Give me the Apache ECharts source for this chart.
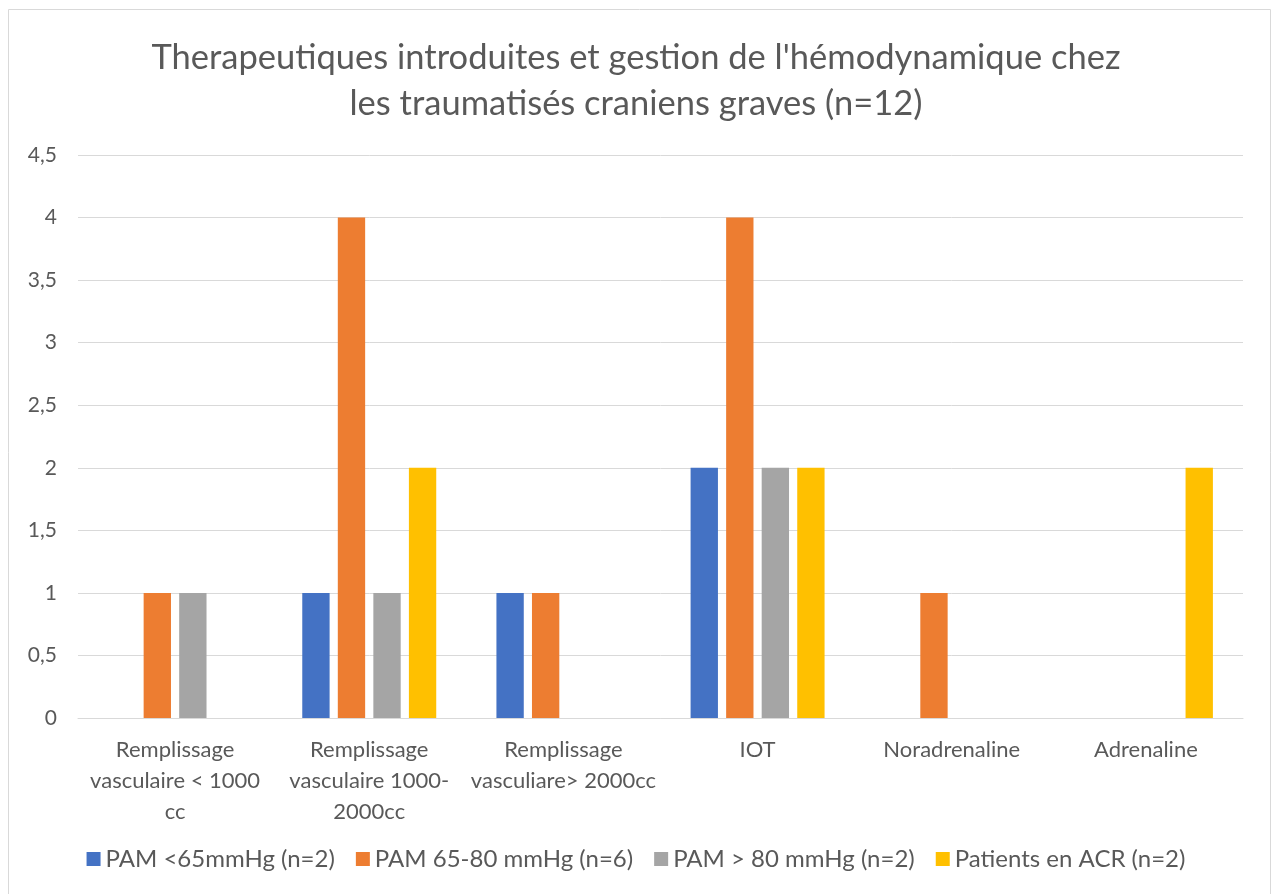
<!DOCTYPE html>
<html>
<head>
<meta charset="utf-8">
<script src="https://cdn.jsdelivr.net/npm/echarts@6/dist/echarts.min.js"></script>
<style>
  html, body { margin: 0; padding: 0; background: #fff; }
  #main { width: 1272px; height: 894px; }
</style>
</head>
<body>
<div id="main"></div>
<script>
var chartDom = document.getElementById('main');
var myChart = echarts.init(chartDom);
var option;

// categories and series values
var categories = [
    'Remplissage\nvasculaire < 1000\ncc',
    'Remplissage\nvasculaire 1000-\n2000cc',
    'Remplissage\nvasculiare> 2000cc',
    'IOT',
    'Noradrenaline',
    'Adrenaline'
];
var seriesNames = ['PAM <65mmHg (n=2)', 'PAM 65-80 mmHg (n=6)', 'PAM > 80 mmHg (n=2)', 'Patients en ACR (n=2)'];
var pamBas = [0, 1, 1, 2, 0, 0];
var pamMoyen = [1, 4, 1, 4, 1, 0];
var pamHaut = [1, 1, 0, 2, 0, 0];
var acr = [0, 2, 0, 2, 0, 2];
var seriesData = [pamBas, pamMoyen, pamHaut, acr];
var colors = ['#4472c4', '#ed7d31', '#a5a5a5', '#ffc000'];

var font = 'Lato, "Open Sans", sans-serif';

option = {
    animation: false,
    title: {
        text: "Therapeutiques introduites et gestion de l'hémodynamique chez\nles traumatisés craniens graves (n=12)",
        left: 'center',
        top: 30,
        textStyle: {
            fontFamily: font,
            fontWeight: 'normal',
            fontSize: 34.5,
            lineHeight: 46,
            color: '#595959'
        }
    },
    graphic: [{
        type: 'rect',
        shape: { x: 8.5, y: 9.5, width: 1262, height: 900 },
        style: { fill: 'none', stroke: '#d9d9d9', lineWidth: 1 },
        silent: true
    }],
    legend: {
        data: seriesNames,
        bottom: 18,
        left: 'center',
        icon: 'rect',
        itemWidth: 14,
        itemHeight: 14,
        itemGap: 21,
        textStyle: { fontFamily: font, fontSize: 24, color: '#595959' }
    },
    grid: {
        left: 78,
        right: 29,
        top: 155,
        bottom: 176
    },
    xAxis: {
        type: 'category',
        data: categories,
        axisTick: { show: false },
        axisLine: { lineStyle: { color: '#d9d9d9', width: 1 } },
        axisLabel: {
            interval: 0,
            margin: 16,
            fontFamily: font,
            fontSize: 22,
            lineHeight: 31,
            color: '#595959'
        }
    },
    yAxis: {
        type: 'value',
        min: 0,
        max: 4.5,
        interval: 0.5,
        axisLine: { show: false },
        axisTick: { show: false },
        splitLine: { lineStyle: { color: '#d9d9d9', width: 1 } },
        axisLabel: {
            margin: 21,
            fontFamily: font,
            fontSize: 21,
            color: '#595959',
            formatter: function (v) { return String(v).replace('.', ','); }
        }
    },
    series: seriesNames.map(function (name, i) {
        return {
            name: name,
            type: 'bar',
            data: seriesData[i],
            barGap: '30%',
            barCategoryGap: '31%',
            itemStyle: { color: colors[i] }
        };
    })
};

option && myChart.setOption(option);
</script>
</body>
</html>
